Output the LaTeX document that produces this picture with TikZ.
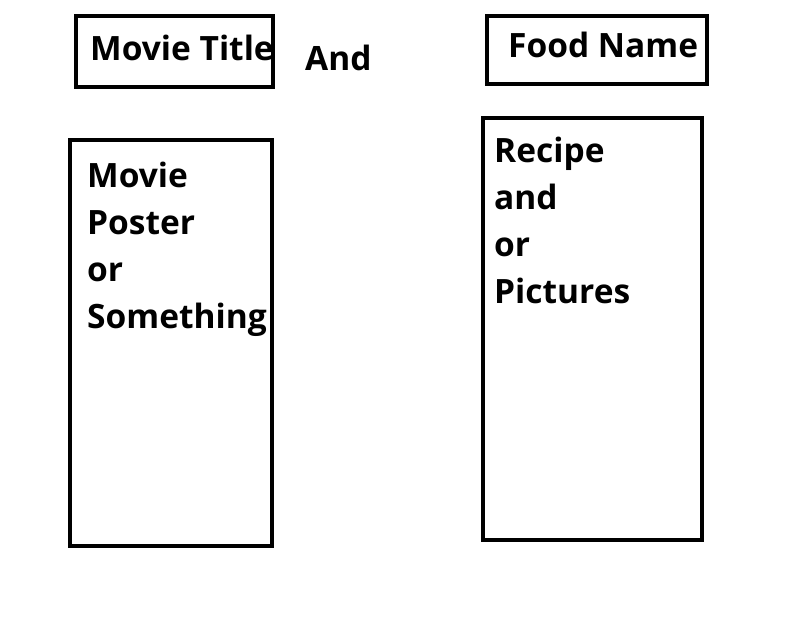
\documentclass[tikz,border=0pt]{standalone}
\usepackage{fontspec}
\setmainfont{Open Sans}
\begin{document}
\begin{tikzpicture}[x=1pt,y=-1pt,
  box/.style={draw=black,line width=4pt},
  lbl/.style={anchor=base west,inner sep=0pt,font=\fontsize{33.5}{47}\selectfont\bfseries,align=left}]
\useasboundingbox (0,0) rectangle (808,622);
\draw[box] (76,16) rectangle (273,87);
\draw[box] (487,16) rectangle (707,84);
\draw[box] (70,140) rectangle (272,546);
\draw[box] (483,118) rectangle (702,540);
\node[lbl] (mt) at (90,60) {Movie Title};
\node[lbl] (and) at (305,70) {And};
\node[lbl] (fn) at (508,57) {Food Name};
\node[lbl] (l1) at (87,187) {Movie};
\node[lbl] (l2) at (87,234) {Poster};
\node[lbl] (l3) at (87,281) {or};
\node[lbl] (l4) at (87,328) {Something};
\node[lbl] (r1) at (494,162) {Recipe};
\node[lbl] (r2) at (494,209) {and};
\node[lbl] (r3) at (494,256) {or};
\node[lbl] (r4) at (494,303) {Pictures};
\end{tikzpicture}
\end{document}
